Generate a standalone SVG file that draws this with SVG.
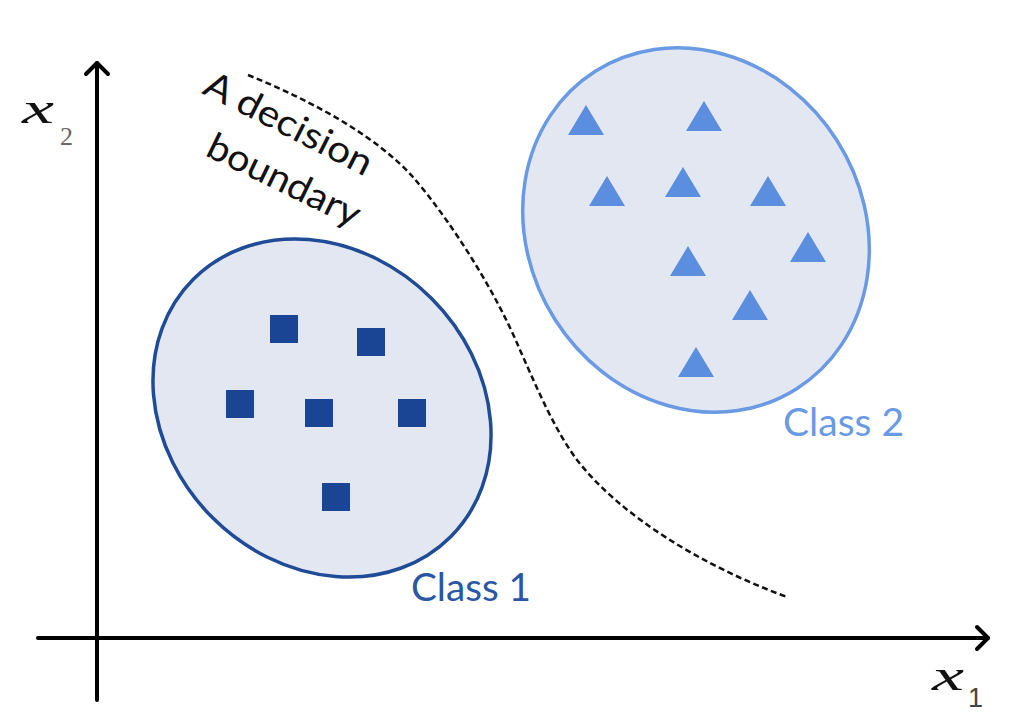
<svg xmlns="http://www.w3.org/2000/svg" xmlns:xlink="http://www.w3.org/1999/xlink" width="1024" height="724" viewBox="0 0 1024 724">
  <style>
    .axis { stroke: #000; stroke-width: 4; fill: none; stroke-linecap: round; stroke-linejoin: round; }
    .math { font-family: "Liberation Serif", "DejaVu Serif", serif; font-style: italic; font-size: 44px; fill: #111; }
    .sub { font-family: "Liberation Serif", serif; font-size: 26px; fill: #666; }
    .sub1 { font-family: "Liberation Sans", sans-serif; font-size: 27px; fill: #444; }
    .label { font-family: Lato, "Open Sans", sans-serif; font-size: 38px; }
    .dec { font-family: Lato, "Open Sans", sans-serif; font-size: 37px; fill: #111; }
    .boundary { fill: none; stroke: #111; stroke-width: 2.5; stroke-dasharray: 6 3.5; }
    .c1 { fill: #E3E7F2; stroke: #1F4B97; stroke-width: 3.5; }
    .c2 { fill: #E3E7F2; stroke: #6A9AE4; stroke-width: 3.5; }
    .sq { fill: #1A4594; }
    .tri { fill: #5B8EDF; }
  </style>
  <defs>
    <rect id="square" x="0" y="0" width="28" height="28"/>
    <path id="triangle" d="M0,0 L18,30 L-18,30 Z"/>
  </defs>
  <rect width="1024" height="724" fill="#fff"/>

  <g id="axes">
    <line class="axis" x1="97" y1="700" x2="97" y2="63"/>
    <polyline class="axis" points="86,74 97,63 108,74"/>
    <line class="axis" x1="38" y1="638" x2="988" y2="638"/>
    <polyline class="axis" points="977,627 988,638 977,649"/>
    <text class="math" x="22" y="123" textLength="32" lengthAdjust="spacingAndGlyphs">x</text>
    <text class="sub" x="60" y="145">2</text>
    <text class="math" x="932" y="690" textLength="32" lengthAdjust="spacingAndGlyphs">x</text>
    <text class="sub1" x="968" y="707">1</text>
  </g>

  <g id="class1">
    <ellipse class="c1" cx="322" cy="408" rx="182" ry="155" transform="rotate(45 322 408)"/>
    <g class="sq">
      <use xlink:href="#square" x="270" y="315"/>
      <use xlink:href="#square" x="357" y="328"/>
      <use xlink:href="#square" x="226" y="390"/>
      <use xlink:href="#square" x="305" y="399"/>
      <use xlink:href="#square" x="398" y="399"/>
      <use xlink:href="#square" x="322" y="483"/>
    </g>
    <text class="label" x="411" y="601" fill="#2A56A3" textLength="120" lengthAdjust="spacingAndGlyphs">Class 1</text>
  </g>

  <g id="class2">
    <ellipse class="c2" cx="696" cy="230" rx="188" ry="167" transform="rotate(57.6 696 230)"/>
    <g class="tri">
      <use xlink:href="#triangle" x="586" y="105"/>
      <use xlink:href="#triangle" x="704" y="101"/>
      <use xlink:href="#triangle" x="607" y="176"/>
      <use xlink:href="#triangle" x="683" y="167"/>
      <use xlink:href="#triangle" x="768" y="176"/>
      <use xlink:href="#triangle" x="808" y="232"/>
      <use xlink:href="#triangle" x="688" y="246"/>
      <use xlink:href="#triangle" x="750" y="290"/>
      <use xlink:href="#triangle" x="696" y="347"/>
    </g>
    <text class="label" x="783" y="436" fill="#6A9AE4" textLength="121" lengthAdjust="spacingAndGlyphs">Class 2</text>
  </g>

  <g id="connectors">
    <path class="boundary" d="M248,75 C310,100 375,135 413,177 C450,220 495,290 520,350 C540,395 555,430 577,460 C620,515 700,565 787,597"/>
  </g>

  <g id="decision-label">
    <text class="dec" transform="translate(201,93) rotate(27)" x="0" y="0" textLength="184" lengthAdjust="spacingAndGlyphs">A decision</text>
    <text class="dec" transform="translate(204,155) rotate(26)" x="0" y="0" textLength="166" lengthAdjust="spacingAndGlyphs">boundary</text>
  </g>
</svg>
